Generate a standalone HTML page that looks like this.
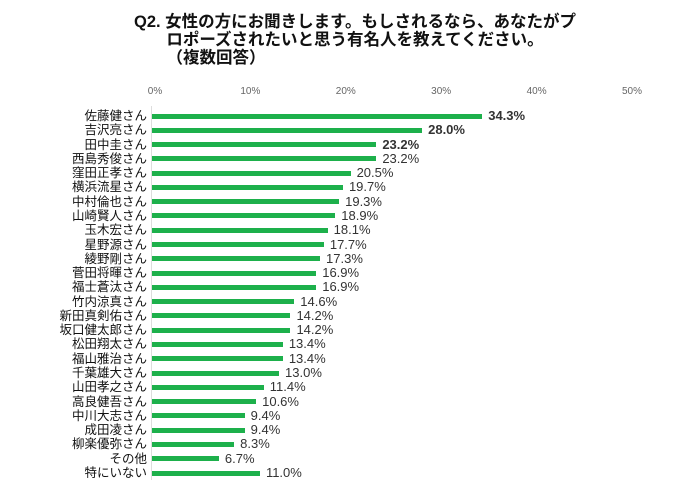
<!DOCTYPE html>
<html><head><meta charset="utf-8"><style>
body{margin:0;width:700px;height:495px;background:#fff;font-family:"Liberation Sans","Noto Sans CJK JP",sans-serif;position:relative;overflow:hidden}
.t{position:absolute;left:5px;width:700px;text-align:center;font-weight:bold;font-size:16.5px;color:#111;line-height:18px}
.ax{position:absolute;top:86px;font-size:10px;color:#666;width:40px;margin-left:-20px;text-align:center}
.lb{position:absolute;right:553px;font-size:12.5px;color:#111;white-space:nowrap;line-height:14px}
.bar{position:absolute;left:152px;height:5px;background:#1db04b}
.v{position:absolute;font-size:13px;color:#333;line-height:14px}
</style></head><body>
<div class="t" style="top:13px">Q2. 女性の方にお聞きします。もしされるなら、あなたがプ</div>
<div class="t" style="top:31px">ロポーズされたいと思う有名人を教えてください。</div>
<div class="t" style="top:49px;left:-134px">（複数回答）</div>
<div style="position:absolute;left:151px;top:106px;width:1px;height:374px;background:#ddd"></div>
<div id="c"></div>
<script>
var ax=[0,10,20,30,40,50],h='';
ax.forEach(function(a){h+='<div class="ax" style="left:'+(155+a*9.54)+'px">'+a+'%</div>'});
var d=[["佐藤健さん",34.3,1],["吉沢亮さん",28.0,1],["田中圭さん",23.2,1],["西島秀俊さん",23.2],["窪田正孝さん",20.5],["横浜流星さん",19.7],["中村倫也さん",19.3],["山崎賢人さん",18.9],["玉木宏さん",18.1],["星野源さん",17.7],["綾野剛さん",17.3],["菅田将暉さん",16.9],["福士蒼汰さん",16.9],["竹内涼真さん",14.6],["新田真剣佑さん",14.2],["坂口健太郎さん",14.2],["松田翔太さん",13.4],["福山雅治さん",13.4],["千葉雄大さん",13.0],["山田孝之さん",11.4],["高良健吾さん",10.6],["中川大志さん",9.4],["成田凌さん",9.4],["柳楽優弥さん",8.3],["その他",6.7],["特にいない",11.0]];
d.forEach(function(r,i){var y=116+i*14.28,w=r[1]*9.54+3;
h+='<div class="lb" style="top:'+(y-7)+'px">'+r[0]+'</div>';
h+='<div class="bar" style="top:'+(y-2.5)+'px;width:'+w+'px"></div>';
h+='<div class="v" style="top:'+(y-7)+'px;left:'+(152+w+6)+'px;'+(r[2]?'font-weight:bold':'')+'">'+r[1].toFixed(1)+'%</div>';});
document.getElementById('c').innerHTML=h;
</script>
</body></html>
